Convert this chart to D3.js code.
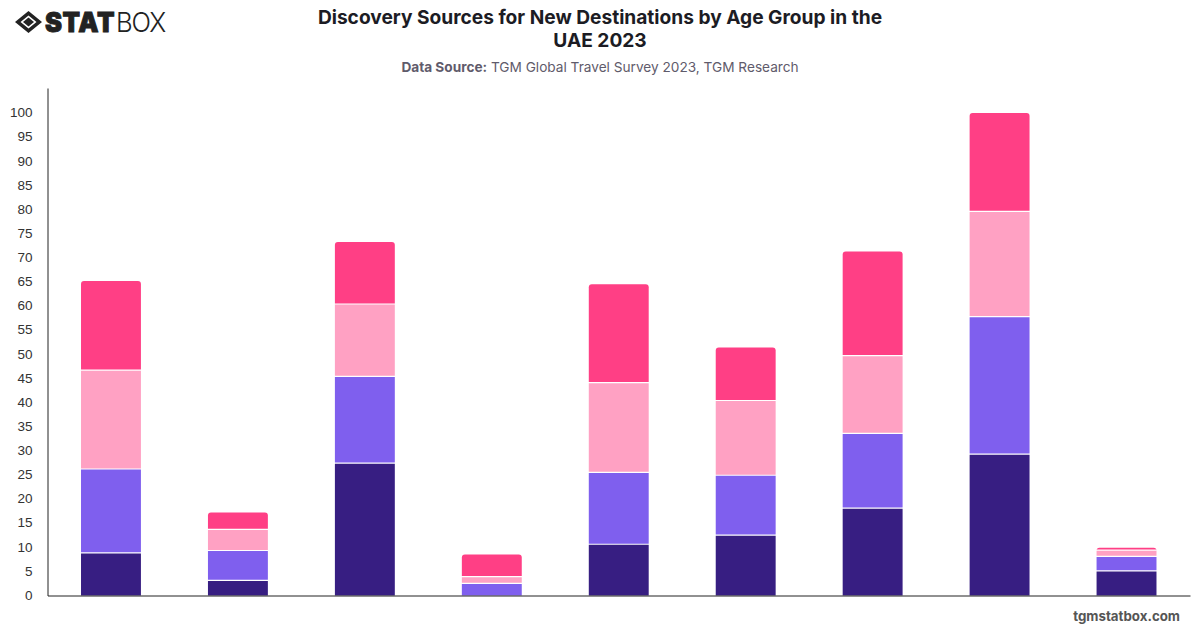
<!DOCTYPE html>
<html>
<head>
<meta charset="utf-8">
<script src="https://cdn.jsdelivr.net/npm/d3@7"></script>
<style>
  html, body { margin: 0; padding: 0; background: #fff; }
  svg { display: block; font-family: Inter, "Liberation Sans", sans-serif; }
</style>
</head>
<body>
<svg id="chart" width="1200" height="628"></svg>
<script>
// Stacked segment values per group, bottom to top
const groups = ["1", "2", "3", "4", "5", "6", "7", "8", "9"];
const seriesNames = ["a", "b", "c", "d"];
const seriesA = [8.7, 3.0, 27.3, 0, 10.5, 12.4, 18.0, 29.2, 5.0];
const seriesB = [17.4, 6.2, 18.0, 2.4, 14.9, 12.4, 15.5, 28.5, 3.0];
const seriesC = [20.5, 4.4, 15.0, 1.4, 18.6, 15.5, 16.1, 21.8, 1.3];
const seriesD = [18.6, 3.6, 13.0, 4.7, 20.5, 11.1, 21.7, 20.5, 0.6];
const seriesColors = ["#371e82", "#7f5fee", "#ffa1c3", "#ff3f85"];
const yTicks = d3.range(0, 105, 5);

const titleLines = ["Discovery Sources for New Destinations by Age Group in the", "UAE 2023"];
const sourceLabel = "Data Source:";
const sourceText = " TGM Global Travel Survey 2023, TGM Research";
const siteLabel = "tgmstatbox.com";

const svg = d3.select("#chart");
const margin = { left: 47.5, right: 10, top: 88, bottom: 32.5 };
const width = 1200, height = 628;

const x = d3.scaleBand().domain(groups)
  .range([margin.left, width - margin.right]).paddingInner(0.528).paddingOuter(0.264);
const y = d3.scaleLinear().domain([0, 105.2])
  .range([height - margin.bottom, margin.top]);

// Rows of values keyed by series, stacked with d3.stack
const rows = groups.map((g, i) => ({
  group: g, a: seriesA[i], b: seriesB[i], c: seriesC[i], d: seriesD[i]
}));
const stacked = d3.stack().keys(seriesNames)(rows);

// Rectangle with optionally rounded top corners
function segmentPath(x0, x1, yTop, yBottom, r) {
  const p = d3.path();
  p.moveTo(x0, yBottom);
  p.lineTo(x0, yTop + r);
  p.quadraticCurveTo(x0, yTop, x0 + r, yTop);
  p.lineTo(x1 - r, yTop);
  p.quadraticCurveTo(x1, yTop, x1, yTop + r);
  p.lineTo(x1, yBottom);
  p.closePath();
  return p.toString();
}

svg.append("g").selectAll("g").data(stacked).join("g")
  .attr("fill", (d, i) => seriesColors[i])
  .each(function (layer, li) {
    d3.select(this).selectAll("path").data(layer.filter(d => d[1] > d[0])).join("path")
      .attr("d", d => {
        const x0 = x(d.data.group), x1 = x0 + x.bandwidth();
        const h = y(d[0]) - y(d[1]);
        const r = li === seriesNames.length - 1 ? Math.min(3, h) : 0;
        // leave a hairline of white between stacked segments
        const gap = li > 0 && d[0] > 0 ? 1.2 : 0;
        return segmentPath(x0, x1, y(d[1]), y(d[0]) - gap, r);
      });
  });

// Axes
const yAxis = svg.append("g").attr("transform", `translate(${margin.left},0)`)
  .call(d3.axisLeft(y).tickValues(yTicks).tickSize(0).tickPadding(15));
yAxis.select(".domain").attr("stroke", "#222").attr("stroke-width", 1);
yAxis.selectAll("text").attr("font-size", 13.5).attr("fill", "#333").attr("dy", "0.28em");

const xAxis = svg.append("g").attr("transform", `translate(0,${y(0)})`)
  .call(d3.axisBottom(x).tickSize(0).tickFormat(""));
xAxis.select(".domain").attr("stroke", "#222").attr("stroke-width", 1);

// Heading
svg.append("g").selectAll("text").data(titleLines).join("text")
  .attr("x", 600).attr("y", (d, i) => 24 + i * 23)
  .attr("text-anchor", "middle")
  .attr("font-size", 19.15).attr("font-weight", 700).attr("fill", "#1c1c24")
  .text(d => d);

const source = svg.append("text").attr("x", 600).attr("y", 72)
  .attr("text-anchor", "middle").attr("font-size", 13.65).attr("fill", "#5f5b6b");
source.append("tspan").attr("font-weight", 700).text(sourceLabel);
source.append("tspan").text(sourceText);

svg.append("text").attr("x", 1180).attr("y", 621).attr("text-anchor", "end")
  .attr("font-size", 13.3).attr("font-weight", 700).attr("fill", "#555").text(siteLabel);

// Brand mark: a diamond ring with a solid diamond inside, then the wordmark
const logo = svg.append("g").attr("transform", "translate(15,11)");
logo.append("path").attr("fill", "#222").attr("fill-rule", "evenodd")
  .attr("d", "M0 11 L13.5 0 L27 11 L13.5 22 Z M5.5 11 L13.5 17.5 L21.5 11 L13.5 4.5 Z");
logo.append("path").attr("fill", "#222").attr("d", "M8 11 L13.5 6.5 L19 11 L13.5 15.5 Z");
logo.append("text").attr("x", 30).attr("y", 21)
  .attr("font-size", 27).attr("font-weight", 900).attr("fill", "#222")
  .attr("stroke", "#222").attr("stroke-width", 0.9)
  .attr("textLength", 70).attr("lengthAdjust", "spacingAndGlyphs")
  .style("letter-spacing", "0.6px").text("STAT");
logo.append("text").attr("x", 101).attr("y", 21)
  .attr("font-size", 27).attr("font-weight", 300).attr("fill", "#222")
  .attr("textLength", 49).attr("lengthAdjust", "spacingAndGlyphs")
  .style("letter-spacing", "-1.2px").text("BOX");
</script>
</body>
</html>
